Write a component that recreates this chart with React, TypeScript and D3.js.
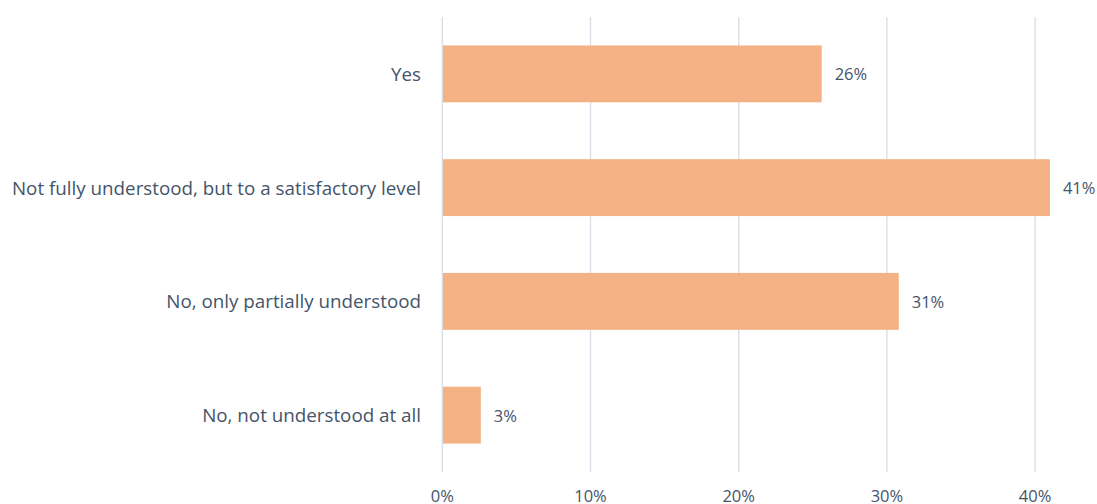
import React from "react";
import * as d3 from "d3";

const categories = [
  "Yes",
  "Not fully understood, but to a satisfactory level",
  "No, only partially understood",
  "No, not understood at all",
];
const values = [25.6, 41.0, 30.8, 2.6];
const valueLabels = ["26%", "41%", "31%", "3%"];
const ticks = [0, 10, 20, 30, 40];

const W = 1097;
const H = 504;
const FONT = "'Open Sans', 'Noto Sans', sans-serif";
const TEXT = "#44546A";

export default function App() {
  const x = d3.scaleLinear().domain([0, 10]).range([442.3, 590.5]);
  const y = d3.scaleBand<string>().domain(categories).range([17, 472]).paddingInner(0.5).paddingOuter(0.25);
  return (
    <svg width={W} height={H} style={{ position: "absolute", left: 0, top: 0 }}>
      <rect width={W} height={H} fill="#fff" />
      {ticks.map((t) => (
        <g key={t}>
          <line x1={x(t)} x2={x(t)} y1={17} y2={472} stroke="#D9DDE5" strokeWidth={1.3} />
          <text x={x(t)} y={502} textAnchor="middle" fontFamily={FONT} fontSize={16.5} fill={TEXT}>
            {t}%
          </text>
        </g>
      ))}
      {categories.map((c, i) => (
        <g key={c}>
          <rect x={x(0) + 0.7} y={y(c)} width={x(values[i]) - x(0) - 0.7} height={y.bandwidth()} fill="#F4B183" />
          <text x={421} y={(y(c) as number) + y.bandwidth() / 2} textAnchor="end" dominantBaseline="central" fontFamily={FONT} fontSize={18.8} fill={TEXT}>
            {c}
          </text>
          <text x={x(values[i]) + 13} y={(y(c) as number) + y.bandwidth() / 2} dominantBaseline="central" fontFamily={FONT} fontSize={16.5} fill={TEXT}>
            {valueLabels[i]}
          </text>
        </g>
      ))}
    </svg>
  );
}
